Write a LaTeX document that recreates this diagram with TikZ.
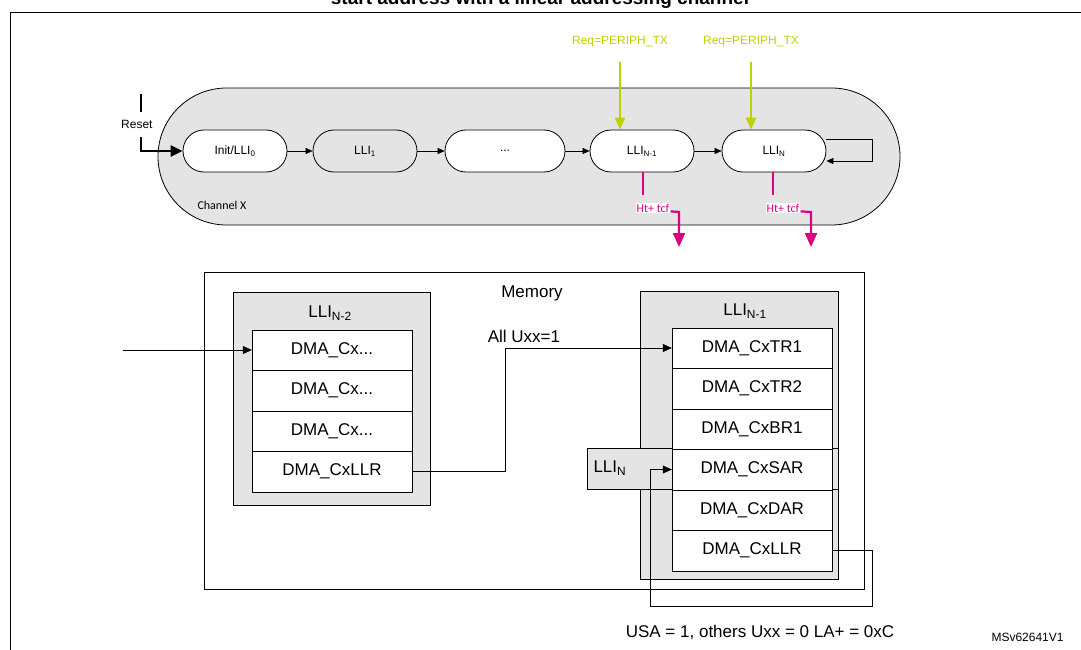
\documentclass[tikz,border=0pt]{standalone}
\usepackage{fontspec}
\setmainfont{Liberation Sans}
\newfontfamily\carfont{Carlito}
\usetikzlibrary{arrows.meta}
\definecolor{grn}{RGB}{190,210,0}
\definecolor{mag}{RGB}{220,0,130}
\definecolor{lgray}{RGB}{228,228,228}
\begin{document}
\begin{tikzpicture}[x=1pt,y=-1pt,
  st/.style={draw,thick,fill=white,rounded corners=21pt,minimum width=104pt,minimum height=42pt,font=\fontsize{12}{14}\selectfont},
  reg/.style={draw,fill=white,minimum width=160pt,minimum height=40.5pt,font=\fontsize{17}{20}\selectfont,inner sep=0pt},
  ar/.style={-{Triangle[length=9pt,width=8pt]}},
  lbl/.style={font=\fontsize{12}{14}\selectfont}]
\useasboundingbox (0,0) rectangle (1081,650);
\begin{scope}
\clip (0,0) rectangle (1081,650);
\node[font=\bfseries\fontsize{19}{22}\selectfont] (title) at (540,0) {start address with a linear addressing channel};
\draw[thick] (10,12) rectangle (1090,660);
\end{scope}
% channel
\draw[thick,fill=lgray,rounded corners=68.5pt] (158,88) rectangle (900,225);
\node[font=\carfont\fontsize{12}{14}\selectfont,anchor=west] (chx) at (194,205) {Channel X};
\node[st] (s0) at (235,151) {Init/LLI\textsubscript{0}};
\node[st,fill=lgray] (s1) at (365,151) {LLI\textsubscript{1}};
\node[st,minimum width=120pt] (s2) at (505,151) {...};
\node[st] (s3) at (642,151) {LLI\textsubscript{N-1}};
\node[st] (s4) at (774,151) {LLI\textsubscript{N}};
\draw[ar,-{Triangle[length=7pt,width=6pt]}] (s0) -- (s1);
\draw[ar,-{Triangle[length=7pt,width=6pt]}] (s1) -- (s2);
\draw[ar,-{Triangle[length=7pt,width=6pt]}] (s2) -- (s3);
\draw[ar,-{Triangle[length=7pt,width=6pt]}] (s3) -- (s4);
\coordinate (l1) at (872,139); \coordinate (l2) at (872,161);
\draw[thick,-{Triangle[length=7pt,width=6pt]}] (s4.east |- l1) -- (l1) -- (l2) -- (s4.east |- l2);
% reset
\coordinate (r0) at (141,94); \coordinate (r1) at (141,112);
\draw[line width=2.5pt] (r0) -- (r1);
\node[lbl,anchor=west,inner sep=0pt] (rst) at (121,124) {Reset};
\coordinate (r2) at (141,137); \coordinate (r3) at (141,151);
\draw[line width=2.5pt,-{Triangle[length=12pt,width=11pt]}] (r2) -- (r3) -- (s0.west);
% green
\node[lbl,text=grn] (q1) at (620,42) {Req=PERIPH\_TX};
\node[lbl,text=grn] (q2) at (751,42) {Req=PERIPH\_TX};
\coordinate (g1) at (620,62); \coordinate (g2) at (751,62);
\draw[grn,line width=2.2pt,-{Triangle[length=12pt,width=10pt]}] (g1) -- (s3.north -| g1);
\draw[grn,line width=2.2pt,-{Triangle[length=12pt,width=10pt]}] (g2) -- (s4.north -| g2);
% magenta
\foreach \n/\x/\t in {3/643/679,4/773/811}{
  \node[fill=white,text=mag,font=\carfont\fontsize{12}{14}\selectfont,inner sep=1pt] (h\n) at (\x+10,208) {Ht+ tcf};
  \draw[mag,line width=2.2pt] (\x,172) -- (\x,195);
  \coordinate (m\n) at (\t,212); \coordinate (t\n) at (\t,247);
  \draw[mag,line width=2.2pt,-{Triangle[length=14pt,width=12pt]}] (h\n.south east) ++(0,-2) -- (m\n) -- (t\n);
}
% memory
\draw (204,272) rectangle (864,589);
\node[font=\fontsize{17}{20}\selectfont] (mem) at (532,293) {Memory};
\node[font=\fontsize{17}{20}\selectfont] (all) at (524,336) {All Uxx=1};
% left LLI
\draw[fill=lgray] (233,292) rectangle (430,505);
\node[font=\fontsize{17}{20}\selectfont] (ln2) at (330,313) {LLI\textsubscript{N-2}};
\node[reg] (a1) at (332,350) {DMA\_Cx...};
\node[reg] (a2) at (332,390.5) {DMA\_Cx...};
\node[reg] (a3) at (332,431) {DMA\_Cx...};
\node[reg] (a4) at (332,471.5) {DMA\_CxLLR};
\coordinate (in) at (123,350);
\draw[ar] (in) -- (a1.west);
% right LLI
\draw[fill=lgray] (640,291) rectangle (838,579);
\node[font=\fontsize{17}{20}\selectfont] (ln1) at (745,311) {LLI\textsubscript{N-1}};
\draw[fill=lgray] (587,448) rectangle (838,489);
\node[font=\fontsize{17}{20}\selectfont,anchor=west] (lnn) at (590,468) {LLI\textsubscript{N}};
\node[reg] (b1) at (752,348) {DMA\_CxTR1};
\node[reg] (b2) at (752,388.5) {DMA\_CxTR2};
\node[reg] (b3) at (752,429) {DMA\_CxBR1};
\node[reg,fill=white] (b4) at (752,469.5) {DMA\_CxSAR};
\node[reg] (b5) at (752,510) {DMA\_CxDAR};
\node[reg] (b6) at (752,550.5) {DMA\_CxLLR};
\draw (832,448) -- (838,448) (832,489) -- (838,489);
\coordinate (c1) at (505,471.5); \coordinate (c2) at (505,348);
\draw[ar] (a4.east) -- (c1) -- (c2) -- (b1.west);
\coordinate (d1) at (872,550.5); \coordinate (d2) at (872,606); \coordinate (d3) at (650,606); \coordinate (d4) at (650,469.5);
\draw[ar] (b6.east) -- (d1) -- (d2) -- (d3) -- (d4) -- (b4.west);
\node[font=\fontsize{17}{20}\selectfont] (usa) at (760,632) {USA = 1, others Uxx = 0 LA+ = 0xC};
\node[font=\fontsize{12}{14}\selectfont,anchor=west] (ms) at (988,637) {MSv62641V1};
\end{tikzpicture}
\end{document}
